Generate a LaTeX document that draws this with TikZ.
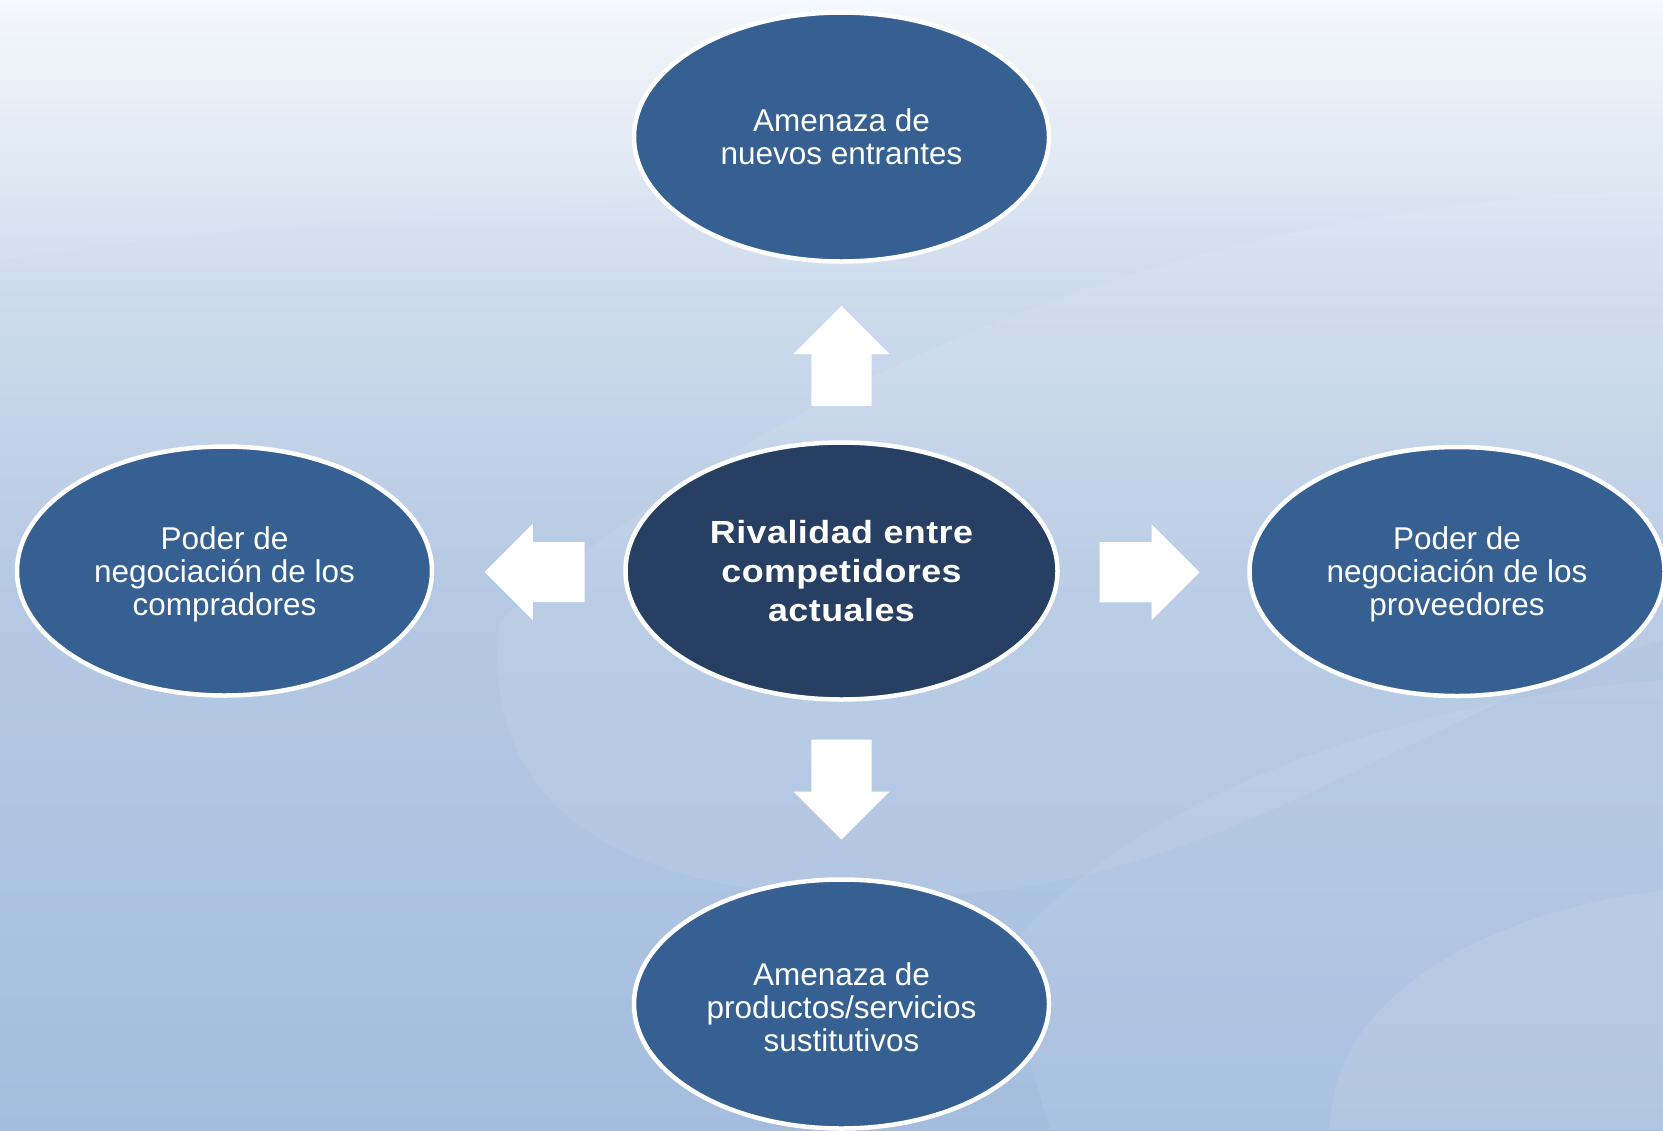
\documentclass[tikz,border=0pt]{standalone}
\usepackage{fontspec}
\setmainfont{Liberation Sans}
\newfontfamily\widebold[FakeStretch=1.12,LetterSpace=1.5]{Liberation Sans}
\usetikzlibrary{shapes.geometric,shapes.arrows,calc}
\newcommand{\toppad}{\rule{0pt}{29bp}}
\definecolor{bgtop}{RGB}{245,248,252}
\definecolor{bgqtr}{RGB}{207,220,237}
\definecolor{bgmid}{RGB}{183,202,228}
\definecolor{bgbot}{RGB}{164,189,222}
\definecolor{ovfill}{RGB}{54,96,146}
\definecolor{ovdark}{RGB}{38,63,98}
\pgfdeclareverticalshading{bgshade}{100bp}{color(0bp)=(bgbot); color(25bp)=(bgbot); color(50bp)=(bgmid); color(62.5bp)=(bgqtr); color(75bp)=(bgtop); color(100bp)=(bgtop)}
\begin{document}
\begin{tikzpicture}[x=1bp,y=-1bp,
  force/.style={ellipse, fill=ovfill, draw=white, line width=4.5bp,
    minimum width=415bp, minimum height=249bp, inner sep=0pt,
    text=white, align=center, font=\fontsize{31.5bp}{33bp}\selectfont},
  rival/.style={force, fill=ovdark, minimum width=432bp, minimum height=257bp,
    font=\widebold\bfseries\fontsize{32bp}{39bp}\selectfont},
  arrowbase/.style={single arrow, fill=white, draw=none,
    text height=0pt, text depth=0pt, text width=0pt,
    minimum height=100bp, single arrow head extend=18bp,
    single arrow tip angle=90, anchor=tail},
  harrow/.style={arrowbase, inner xsep=0pt, inner ysep=30bp},
  varrow/.style={arrowbase, inner xsep=30bp, inner ysep=0pt}]
\useasboundingbox (0,0) rectangle (1663,1130);
\shade[shading=bgshade] (0,0) rectangle (1663,1130);
% faint background swooshes
\fill[white, opacity=0.08] (500,620) .. controls (470,860) and (720,920) .. (1000,890)
   .. controls (1250,860) and (1450,700) .. (1663,640) -- (1663,190)
   .. controls (1300,200) and (880,300) .. (500,620) -- cycle;
\fill[white, opacity=0.07] (1000,960) .. controls (1120,800) and (1400,700) .. (1663,680)
   -- (1663,1130) -- (1050,1130) -- cycle;
\fill[white, opacity=0.09] (1330,1130) .. controls (1330,990) and (1500,910) .. (1663,890)
   -- (1663,1130) -- cycle;
\fill[white, opacity=0.05] (0,260) .. controls (400,200) and (900,180) .. (1640,200)
   -- (1663,200) -- (1663,0) -- (0,0) -- cycle;

\node[rival] (rv) at (841.5,571) {Rivalidad entre\\competidores\\actuales};
\node[force] (ne) at (841.5,137) {Amenaza de\\nuevos entrantes};
\node[force] (co) at (224.5,571) {\toppad Poder de\\negociación de los\\compradores};
\node[force] (pr) at (1457,571.5) {\toppad Poder de\\negociación de los\\proveedores};
\node[force] (su) at (841.5,1004) {\toppad Amenaza de\\productos/servicios\\sustitutivos};

\node[varrow, shape border rotate=90] (aup) at ($($(rv.north)!0.5!(ne.south)$)+(0,54)$) {};
\node[varrow, shape border rotate=270] (adn) at ($($(rv.south)!0.5!(su.north)$)+(0,-50)$) {};
\node[harrow, shape border rotate=180] (alf) at ($($(rv.west)!0.5!(co.east)$)+(56,1)$) {};
\node[harrow] (art) at ($($(rv.east)!0.5!(pr.west)$)+(-54,1)$) {};
\end{tikzpicture}
\end{document}
